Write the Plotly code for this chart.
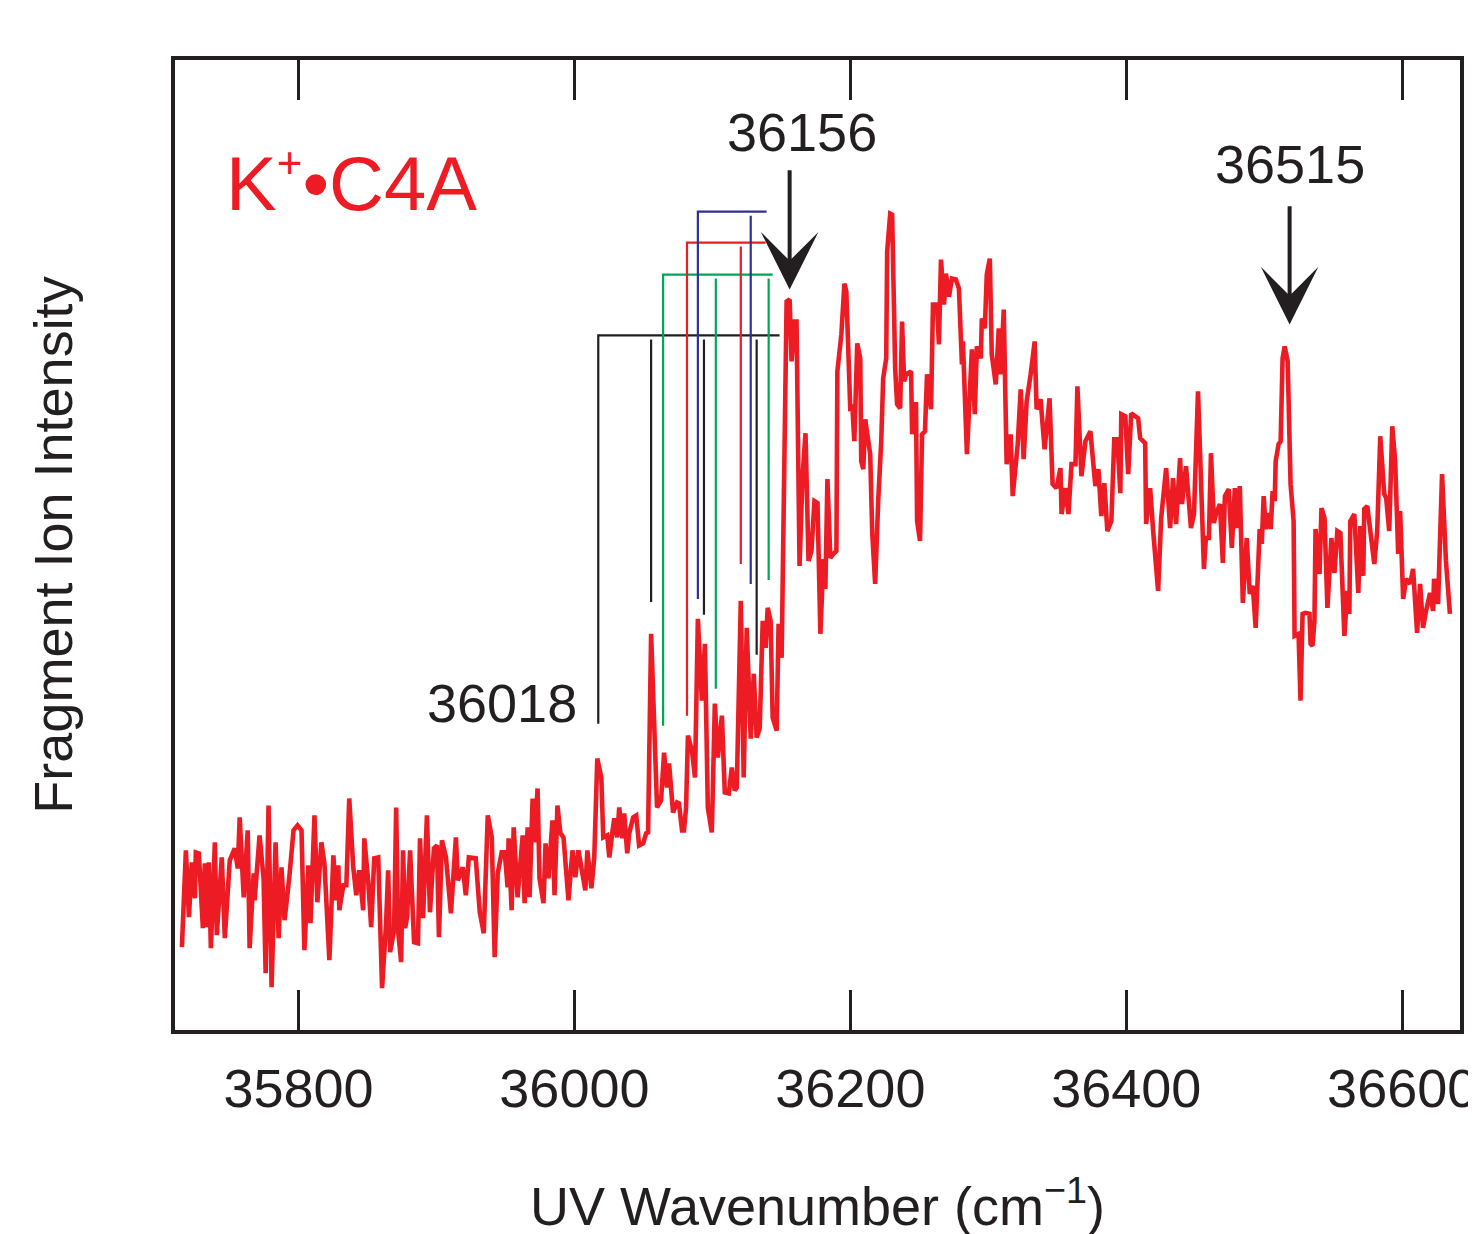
import plotly.graph_objects as go

# ---------------- spectrum data (UV wavenumber in cm^-1, fragment ion intensity in arb. units) -------------
wavenumber = [
    35715.5, 35718.4, 35720.6, 35722.7, 35724.9, 35725.6, 35727.8, 35730.7, 35732.1, 35733.6,
    35735.0, 35736.5, 35739.4, 35740.8, 35744.4, 35746.6, 35750.2, 35753.8, 35756.0, 35757.4,
    35760.3, 35763.2, 35764.6, 35767.5, 35768.2, 35771.8, 35774.7, 35776.2, 35778.3, 35780.5,
    35783.4, 35785.6, 35787.7, 35789.9, 35793.5, 35796.4, 35799.3, 35802.2, 35804.3, 35807.2,
    35808.7, 35811.6, 35813.7, 35816.6, 35818.8, 35822.4, 35825.3, 35827.4, 35828.9, 35829.6,
    35832.5, 35834.7, 35836.8, 35839.7, 35841.9, 35844.0, 35846.9, 35847.7, 35850.5, 35852.7,
    35854.9, 35857.8, 35860.6, 35863.5,
    35865.0, 35866.4, 35869.3, 35870.8, 35872.2, 35874.4, 35875.8, 35877.3, 35878.7, 35880.9,
    35883.8, 35886.6, 35888.1, 35890.3, 35893.1, 35895.3, 35898.2, 35900.4, 35901.8, 35904.0,
    35906.9, 35908.3, 35910.5, 35914.1, 35915.5, 35919.1, 35921.3, 35923.5, 35928.5, 35931.4,
    35934.3, 35937.2, 35940.1, 35942.2, 35944.4, 35947.3, 35949.5, 35951.6, 35952.3, 35954.5,
    35956.0, 35958.8, 35962.5, 35963.9, 35966.1, 35967.5, 35969.7, 35971.1, 35973.3, 35974.7,
    35977.6, 35979.1, 35981.2, 35984.1, 35985.6, 35987.7, 35989.9, 35992.1, 35994.2, 35995.7,
    35998.6, 36000.7, 36002.9, 36005.8, 36007.9, 36009.4, 36012.3, 36014.4,
    36016.6, 36019.5, 36020.9, 36023.8, 36025.3, 36027.4, 36028.9, 36031.0, 36032.5, 36034.7,
    36036.1, 36038.3, 36039.7, 36042.6, 36044.8, 36046.9, 36049.8, 36052.0, 36053.4, 36055.6,
    36057.8, 36059.9, 36062.8, 36065.0, 36067.1, 36068.6, 36071.5, 36074.4, 36075.8, 36078.0,
    36079.4, 36080.9, 36082.3, 36085.2, 36087.4, 36089.5, 36092.4, 36094.6, 36096.7, 36099.6,
    36101.8, 36104.0, 36106.9, 36109.0, 36111.9, 36114.1, 36116.2, 36117.7, 36120.6, 36122.7,
    36124.9, 36127.8, 36130.0, 36132.1, 36134.3, 36136.5, 36138.6, 36140.1, 36142.2, 36143.7,
    36146.6, 36148.0, 36150.2,
    36153.8, 36156.0, 36157.4, 36159.6, 36161.0, 36163.2, 36165.3, 36167.5, 36169.7, 36171.8,
    36174.0, 36176.2, 36178.3, 36180.5, 36181.9, 36183.4, 36185.5, 36187.7, 36189.9, 36190.6,
    36193.5, 36195.7, 36197.1, 36200.0, 36201.4, 36202.9, 36205.0, 36207.2, 36207.9, 36209.4,
    36210.8, 36212.3, 36214.4, 36215.9, 36218.0, 36220.2, 36222.4, 36223.8, 36226.0, 36226.7,
    36228.9, 36230.3, 36232.5, 36233.9, 36236.1, 36237.5, 36239.0, 36240.4, 36244.0, 36244.8,
    36246.2, 36247.6, 36248.4, 36250.5, 36252.0, 36254.1, 36255.6, 36258.5, 36259.9, 36262.8,
    36264.2, 36265.7, 36267.9, 36269.3, 36271.5, 36273.6, 36276.5,
    36278.7, 36280.9, 36281.6, 36284.5, 36288.1, 36290.2, 36291.7, 36294.6, 36295.3, 36297.5,
    36298.9, 36301.1, 36302.5, 36305.4, 36307.6, 36309.0, 36311.2, 36313.3, 36316.2, 36317.7,
    36321.3, 36323.5, 36325.6, 36327.8, 36330.7, 36333.6, 36335.0, 36337.9, 36340.8, 36344.4,
    36346.6, 36349.4, 36352.3, 36353.1, 36355.9, 36358.1, 36360.3, 36363.2, 36364.6, 36367.5,
    36370.4, 36374.0, 36377.6, 36379.8, 36381.9, 36384.1, 36386.3, 36389.2, 36391.3, 36393.5,
    36395.7, 36396.4, 36399.3, 36401.4, 36403.6, 36406.5, 36408.6, 36410.1, 36413.7, 36414.4,
    36417.3, 36419.5, 36423.1, 36425.3, 36428.9, 36431.8, 36433.9, 36436.1, 36439.0, 36440.4,
    36443.3,
    36446.9, 36449.1, 36452.0, 36454.1, 36456.3, 36457.7, 36459.9, 36461.4, 36463.5, 36465.0,
    36467.9, 36470.0, 36471.5, 36474.3, 36476.5, 36478.7, 36480.1, 36482.3, 36484.5, 36487.3,
    36489.5, 36491.7, 36493.8, 36496.7, 36498.2, 36499.6, 36501.1, 36503.2, 36504.7, 36506.1,
    36507.6, 36508.3, 36510.4, 36511.9, 36513.3, 36514.8, 36517.0, 36519.1, 36521.3, 36522.0,
    36524.9, 36526.3, 36527.8, 36529.9, 36532.8, 36533.6, 36535.0, 36536.4, 36537.2, 36540.1,
    36541.5, 36543.7, 36545.8, 36548.7, 36550.9, 36553.0, 36555.2, 36558.1, 36560.3, 36561.7,
    36562.4, 36565.3, 36568.2, 36569.7, 36571.8, 36572.5, 36574.7, 36576.9, 36579.8, 36581.9,
    36584.1, 36587.0, 36588.4, 36590.6, 36592.8, 36594.9, 36597.1, 36598.5, 36600.7, 36602.9,
    36605.8, 36607.9, 36610.8, 36613.0, 36615.1, 36617.3, 36620.2, 36622.4, 36623.1, 36626.0,
    36628.9, 36631.7, 36634.6,
]

intensity = [
    8.3, 18.0, 11.3, 16.8, 13.2, 17.8, 17.7, 10.2, 16.7, 10.3,
    16.8, 8.2, 18.8, 9.5, 17.3, 9.2, 17.0, 18.2, 16.2, 21.3,
    13.3, 20.0, 8.2, 15.7, 13.0, 19.5, 15.2, 5.7, 22.5, 4.3,
    18.8, 9.2, 16.3, 11.0, 15.5, 20.0, 20.5, 20.0, 8.0, 16.5,
    10.7, 21.5, 12.8, 18.8, 16.7, 7.0, 17.5, 13.0, 16.5, 12.0,
    14.5, 14.5, 23.2, 16.3, 13.5, 16.0, 12.0, 19.2, 15.0, 10.3,
    17.2, 17.3, 4.2, 10.7,
    16.0, 7.8, 10.0, 22.3, 10.0, 6.8, 18.0, 10.2, 11.3, 18.0,
    8.8, 8.7, 19.2, 11.2, 21.5, 11.8, 18.2, 18.5, 9.3, 19.0,
    17.3, 15.2, 11.7, 19.3, 15.0, 16.3, 13.5, 17.3, 17.2, 11.8,
    9.7, 21.5, 19.3, 7.3, 15.7, 17.8, 17.8, 14.3, 19.2, 12.0,
    20.3, 13.3, 19.5, 12.7, 20.3, 13.3, 23.2, 18.8, 24.2, 15.2,
    12.7, 18.7, 15.2, 21.0, 13.5, 22.5, 19.7, 19.3, 16.3, 13.0,
    18.0, 15.3, 18.0, 15.7, 14.0, 18.0, 14.2, 17.3,
    27.2, 25.3, 19.3, 19.5, 17.3, 19.7, 21.2, 19.3, 22.3, 19.2,
    21.7, 17.7, 19.7, 21.3, 21.5, 18.5, 18.7, 19.7, 19.8, 39.7,
    28.7, 22.3, 23.0, 27.8, 24.3, 26.7, 21.8, 22.8, 22.7, 20.0,
    20.0, 22.2, 29.5, 28.0, 25.3, 41.2, 33.0, 38.7, 22.3, 19.8,
    32.7, 27.3, 31.5, 23.8, 23.7, 26.3, 24.0, 24.3, 43.0, 25.3,
    40.3, 29.2, 35.7, 29.3, 30.2, 41.0, 38.3, 42.3, 41.0, 31.3,
    30.0, 40.7, 37.3,
    73.0, 73.2, 67.0, 71.0, 71.0, 46.5, 55.3, 59.8, 47.0, 48.0,
    53.0, 52.8, 39.7, 47.2, 44.2, 55.2, 47.3, 47.7, 48.0, 66.0,
    69.7, 74.8, 74.0, 62.0, 62.7, 59.0, 68.8, 67.3, 57.0, 56.2,
    61.2, 59.7, 57.7, 49.7, 44.7, 53.0, 59.0, 65.3, 67.3, 78.0,
    81.8, 81.7, 66.3, 62.7, 62.3, 71.0, 65.0, 65.7, 66.0, 59.7,
    62.7, 62.7, 51.0, 49.0, 59.7, 60.0, 65.7, 62.2, 72.7, 72.7,
    68.7, 77.2, 72.7, 75.8, 73.5, 75.3, 75.2,
    74.3, 66.7, 69.0, 57.7, 68.2, 61.7, 68.5, 67.3, 71.3, 70.3,
    75.7, 77.3, 67.7, 64.7, 70.3, 65.7, 72.2, 56.7, 59.7, 53.5,
    58.7, 64.2, 57.2, 63.0, 65.7, 69.0, 62.2, 63.2, 58.2, 63.3,
    54.7, 54.3, 56.3, 51.7, 54.3, 51.7, 56.7, 56.7, 64.5, 55.5,
    59.0, 60.0, 54.5, 56.2, 51.5, 54.8, 50.0, 51.0, 59.2, 59.2,
    53.8, 61.7, 61.5, 55.7, 61.8, 61.5, 61.3, 59.3, 58.8, 50.7,
    54.3, 50.0, 44.0, 51.3, 56.3, 50.3, 55.3, 50.7, 57.3, 52.7,
    56.5,
    50.3, 51.7, 64.0, 53.3, 46.2, 49.3, 49.3, 57.8, 50.8, 51.7,
    52.7, 46.8, 53.5, 54.2, 48.3, 54.3, 50.3, 54.5, 42.8, 49.3,
    43.7, 44.5, 40.3, 50.2, 48.7, 53.5, 50.2, 51.8, 50.2, 54.0,
    53.0, 57.0, 58.7, 59.0, 67.3, 68.5, 67.0, 54.7, 51.0, 39.5,
    39.7, 33.0, 41.7, 41.8, 41.7, 38.7, 38.5, 41.0, 50.2, 45.7,
    52.3, 51.3, 42.3, 49.3, 45.8, 50.0, 49.8, 39.5, 44.0, 41.7,
    51.0, 51.7, 43.8, 50.5, 45.5, 52.2, 52.5, 50.0, 46.7, 50.0,
    59.5, 53.7, 53.3, 50.0, 60.5, 57.0, 47.7, 52.0, 43.2, 45.2,
    44.7, 46.2, 39.8, 44.7, 40.3, 42.0, 43.8, 42.0, 45.2, 42.7,
    55.7, 47.0, 41.7,
]

# ---------------- progression combs (stick positions, stick lower ends, common top level) ----------------
black_pos = [36017.3, 36055.6, 36093.9, 36132.1]
black_bottom = [30.7, 42.9, 41.6, 37.6]
black_top = 69.6
black_end = 36148.7

green_pos = [36064.3, 36102.5, 36140.8]
green_bottom = [30.5, 34.2, 45.1]
green_top = 75.7
green_end = 36143.7

red_pos = [36081.6, 36120.6]
red_bottom = [31.5, 46.7]
red_top = 78.9
red_end = 36138.6

blue_pos = [36089.5, 36127.8]
blue_bottom = [43.2, 44.7]
blue_top = 82.0
blue_end = 36139.3

# ---------------- axis ticks ----------------
x_ticks = [35800, 36000, 36200, 36400, 36600]
x_tick_text = ["35800", "36000", "36200", "36400", "36600"]

# ---------------- labelled peaks ----------------
peak_156 = 36156
peak_515 = 36518.4
origin_label = "36018"

INK = "#231f20"
RED = "#ed1c24"
GREEN = "#00a651"
BLUE = "#2e3192"
FONT = "Liberation Sans, Arial, Helvetica, sans-serif"


def comb(pos, bottom, top, end):
    xs, ys = [pos[0], pos[0], end, None], [bottom[0], top, top, None]
    for p, b in zip(pos[1:], bottom[1:]):
        xs += [p, p, None]
        ys += [top - 0.4, b, None]
    return xs, ys


fig = go.Figure()

for pos, bot, top, end, col in [
    (black_pos, black_bottom, black_top, black_end, INK),
    (green_pos, green_bottom, green_top, green_end, GREEN),
    (red_pos, red_bottom, red_top, red_end, RED),
    (blue_pos, blue_bottom, blue_top, blue_end, BLUE),
]:
    cx, cy = comb(pos, bot, top, end)
    fig.add_trace(go.Scatter(x=cx, y=cy, mode="lines",
                             line=dict(color=col, width=2.2), hoverinfo="skip",
                             showlegend=False))

fig.add_trace(go.Scatter(x=wavenumber, y=intensity, mode="lines",
                         line=dict(color=RED, width=4.6, shape="linear"),
                         showlegend=False))

annotations = [
    dict(x=35746, y=85.0, text="K<sup><span style='font-size:44px'>+</span></sup>•C4A", showarrow=False,
         xanchor="left", yanchor="middle", font=dict(size=76, color=RED, family=FONT)),
    dict(x=36164.6, y=90.0, text="36156", showarrow=False,
         xanchor="center", yanchor="middle", font=dict(size=54, color=INK, family=FONT)),
    dict(x=36519.0, y=86.8, text="36515", showarrow=False,
         xanchor="center", yanchor="middle", font=dict(size=54, color=INK, family=FONT)),
    dict(x=36003.0, y=32.8, text=origin_label, showarrow=False,
         xanchor="right", yanchor="middle", font=dict(size=54, color=INK, family=FONT)),
    dict(x=peak_156, y=74.2, ax=peak_156, ay=86.3, axref="x", ayref="y", text="",
         showarrow=True, arrowhead=3, arrowsize=2.4, arrowwidth=4, arrowcolor=INK, standoff=0),
    dict(x=peak_515, y=70.7, ax=peak_515, ay=82.7, axref="x", ayref="y", text="",
         showarrow=True, arrowhead=3, arrowsize=2.4, arrowwidth=4, arrowcolor=INK, standoff=0),
]

fig.update_layout(
    width=1476, height=1234,
    margin=dict(l=167, r=7, t=52, b=212),
    paper_bgcolor="white", plot_bgcolor="white",
    font=dict(family=FONT, color=INK, size=54),
    annotations=annotations,
    showlegend=False,
)

fig.update_xaxes(
    range=[35710.5, 36641.9],
    tickvals=x_ticks, ticktext=x_tick_text,
    ticks="inside", ticklen=40, tickwidth=3, tickcolor=INK,
    showline=True, linewidth=3.5, linecolor=INK, mirror="ticks",
    showgrid=False, zeroline=False,
    tickfont=dict(size=54, color=INK, family=FONT),
    ticklabelstandoff=8,
    ticklabeloverflow="allow",
    title=dict(text="UV Wavenumber (cm<sup>−1</sup>)", font=dict(size=54, color=INK, family=FONT),
               standoff=72),
)

fig.update_yaxes(
    range=[0, 97.2],
    showticklabels=False, ticks="",
    showline=True, linewidth=3.5, linecolor=INK, mirror=True,
    showgrid=False, zeroline=False,
    title=dict(text="Fragment Ion Intensity", font=dict(size=54, color=INK, family=FONT),
               standoff=82),
)

fig.write_html("out.html")
